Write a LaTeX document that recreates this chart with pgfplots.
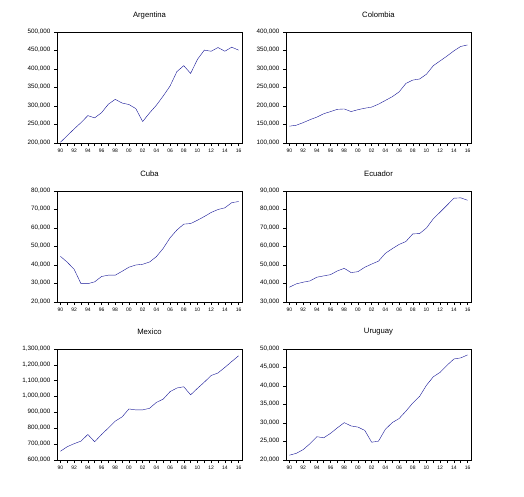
\documentclass[border=0pt]{standalone}
\usepackage{fontspec}
\setmainfont{Liberation Sans}
\usepackage{pgfplots}
\pgfplotsset{compat=1.18}
\definecolor{evblue}{RGB}{20,20,150}
\pgfplotsset{
  ev/.style={
    scale only axis,
    width=185bp, height=111bp,
    anchor=north west,
    xmin=1989.5, xmax=2016.5,
    xtick={1990,1992,...,2016},
    xticklabels={90,92,94,96,98,00,02,04,06,08,10,12,14,16},
    minor xtick={1991,1993,...,2015},
    tick align=outside,
    xtick pos=bottom, ytick pos=left,
    major tick length=3bp, minor tick length=3bp,
    tick style={black, line width=0.5pt},
    axis line style={black, line width=0.7pt},
    scaled y ticks=false,
    typeset ticklabels with strut,
    every x tick label/.style={font=\fontsize{5bp}{6bp}\selectfont, yshift=1.5bp},
    every y tick label/.style={font=\fontsize{6.3bp}{7bp}\selectfont},
    title style={font=\fontsize{7.7bp}{9bp}\selectfont, at={(0.5,1)}, anchor=center, yshift=11bp},
    cycle list={{evblue, line width=0.6pt}},
    no markers,
    clip=false,
  }
}
\begin{document}
\begin{tikzpicture}
\useasboundingbox (0,0) rectangle (524bp,-497bp);
% Argentina
\begin{axis}[ev, at={(57bp,-32bp)}, title={Argentina},
  ymin=200, ymax=500, ytick={200,250,...,500},
  yticklabels={{200,000},{250,000},{300,000},{350,000},{400,000},{450,000},{500,000}}]
\addplot coordinates {(1990,202)(1991,220)(1992,238)(1993,255)(1994,274)(1995,268)(1996,282)(1997,305)(1998,318)(1999,308)(2000,304)(2001,293)(2002,258)(2003,281)(2004,302)(2005,327)(2006,354)(2007,393)(2008,409)(2009,388)(2010,426)(2011,451)(2012,448)(2013,458)(2014,448)(2015,459)(2016,451)};
\end{axis}
% Colombia
\begin{axis}[ev, at={(286bp,-32bp)}, title={Colombia},
  ymin=100, ymax=400, ytick={100,150,...,400},
  yticklabels={{100,000},{150,000},{200,000},{250,000},{300,000},{350,000},{400,000}}]
\addplot coordinates {(1990,145.5)(1991,148)(1992,155)(1993,163)(1994,170)(1995,179)(1996,185)(1997,191)(1998,192)(1999,185)(2000,190)(2001,194)(2002,197)(2003,205)(2004,215)(2005,225)(2006,238)(2007,261)(2008,270)(2009,273)(2010,286)(2011,309)(2012,322)(2013,335)(2014,349)(2015,361)(2016,365)};
\end{axis}
% Cuba
\begin{axis}[ev, at={(57bp,-191bp)}, title={Cuba},
  ymin=20, ymax=80, ytick={20,30,...,80},
  yticklabels={{20,000},{30,000},{40,000},{50,000},{60,000},{70,000},{80,000}}]
\addplot coordinates {(1990,44.7)(1991,41.5)(1992,37.7)(1993,29.9)(1994,29.9)(1995,30.9)(1996,33.8)(1997,34.5)(1998,34.5)(1999,36.6)(2000,38.8)(2001,40.0)(2002,40.4)(2003,41.6)(2004,44.5)(2005,49.0)(2006,54.7)(2007,58.9)(2008,62.1)(2009,62.4)(2010,64.2)(2011,66.2)(2012,68.4)(2013,70.0)(2014,70.9)(2015,73.7)(2016,74.3)};
\end{axis}
% Ecuador
\begin{axis}[ev, at={(286bp,-191bp)}, title={Ecuador},
  ymin=30, ymax=90, ytick={30,40,...,90},
  yticklabels={{30,000},{40,000},{50,000},{60,000},{70,000},{80,000},{90,000}}]
\addplot coordinates {(1990,38.0)(1991,39.8)(1992,40.7)(1993,41.4)(1994,43.4)(1995,44.1)(1996,44.8)(1997,46.8)(1998,48.2)(1999,45.9)(2000,46.4)(2001,48.8)(2002,50.5)(2003,52.1)(2004,56.3)(2005,58.8)(2006,61.1)(2007,62.7)(2008,66.8)(2009,67.0)(2010,70.0)(2011,75.0)(2012,78.6)(2013,82.3)(2014,86.1)(2015,86.3)(2016,85.0)};
\end{axis}
% Mexico
\begin{axis}[ev, at={(57bp,-349bp)}, title={Mexico},
  ymin=600, ymax=1300, ytick={600,700,...,1300},
  yticklabels={{600,000},{700,000},{800,000},{900,000},{1,000,000},{1,100,000},{1,200,000},{1,300,000}}]
\addplot coordinates {(1990,655)(1991,684)(1992,703)(1993,719)(1994,761)(1995,715)(1996,761)(1997,802)(1998,845)(1999,872)(2000,922)(2001,916)(2002,916)(2003,926)(2004,963)(2005,984)(2006,1031)(2007,1054)(2008,1062)(2009,1011)(2010,1052)(2011,1091)(2012,1133)(2013,1149)(2014,1184)(2015,1221)(2016,1257)};
\end{axis}
% Uruguay
\begin{axis}[ev, at={(286bp,-349bp)}, title={Uruguay},
  ymin=20, ymax=50, ytick={20,25,...,50},
  yticklabels={{20,000},{25,000},{30,000},{35,000},{40,000},{45,000},{50,000}}]
\addplot coordinates {(1990,21.3)(1991,21.8)(1992,22.8)(1993,24.4)(1994,26.3)(1995,26.0)(1996,27.2)(1997,28.7)(1998,30.1)(1999,29.2)(2000,28.9)(2001,28.0)(2002,24.8)(2003,25.1)(2004,28.3)(2005,30.1)(2006,31.2)(2007,33.2)(2008,35.4)(2009,37.2)(2010,40.2)(2011,42.5)(2012,43.7)(2013,45.6)(2014,47.3)(2015,47.6)(2016,48.4)};
\end{axis}
\end{tikzpicture}
\end{document}
